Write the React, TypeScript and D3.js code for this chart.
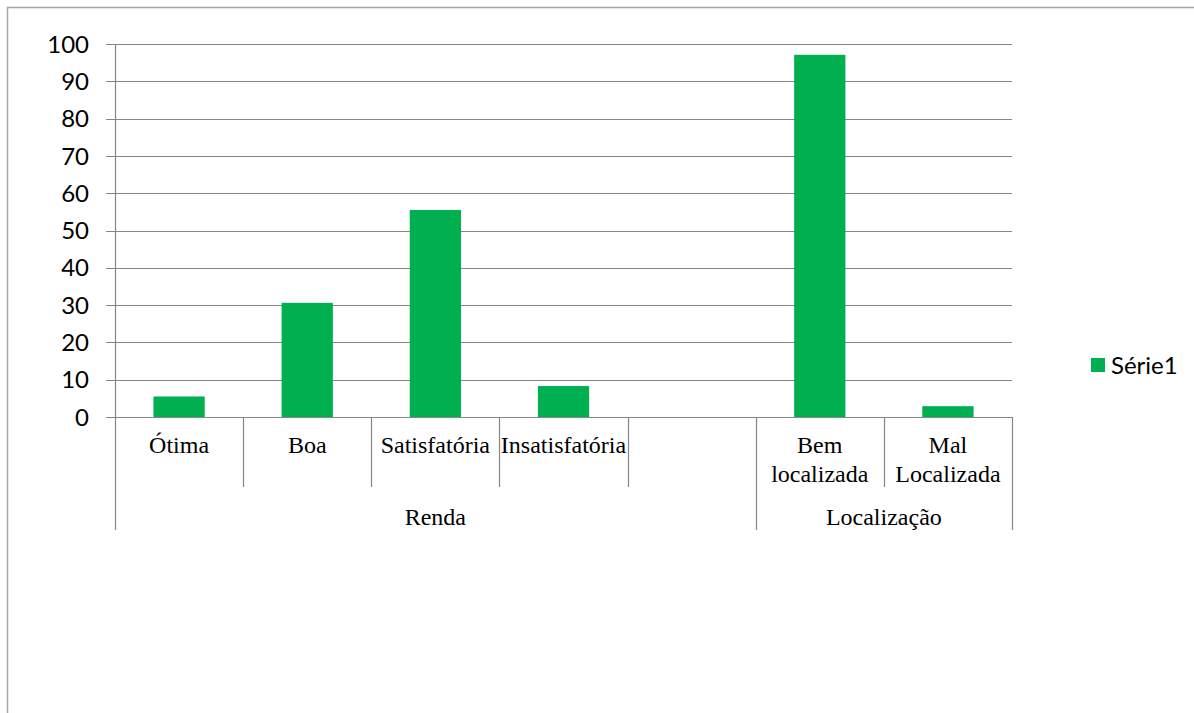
import React from 'react';
import * as d3 from 'd3';

// categories in slot order (an empty slot separates the two groups)
const categories = ['Ótima', 'Boa', 'Satisfatória', 'Insatisfatória', '', 'Bem localizada', 'Mal Localizada'];
const categoryLines = [['Ótima'], ['Boa'], ['Satisfatória'], ['Insatisfatória'], [], ['Bem', 'localizada'], ['Mal', 'Localizada']];
const values = [5.5, 30.6, 55.5, 8.3, null, 97.1, 2.9];
const groups = ['Renda', 'Localização'];
const groupSpans = [[0, 4], [5, 6]];
const yTicks = [0, 10, 20, 30, 40, 50, 60, 70, 80, 90, 100];
const seriesName = 'Série1';

const width = 1194;
const height = 713;
const left = 115;
const right = 1012;
const top = 44;
const bottom = 417;
const green = '#00B050';
const grid = '#868686';
const serif = '24px "Liberation Serif", "Times New Roman", serif';
const sans = '24px Lato, "Open Sans", sans-serif';

export default function App() {
  const slots = d3.scaleBand<number>()
    .domain(d3.range(categories.length))
    .range([left, right])
    .padding(0);
  const x = d3.scaleBand<number>()
    .domain(d3.range(categories.length))
    .range([left, right])
    .paddingInner(0.6)
    .paddingOuter(0.3);
  const y = d3.scaleLinear().domain([0, 100]).range([bottom, top]);

  const step = slots.step();
  const boundaries = d3.range(categories.length + 1).map(i => left + i * step);
  const groupEdges = new Set(groupSpans.flatMap(([a, b]) => [a, b + 1]));

  return (
    <svg width={width} height={height}
      style={{ position: 'absolute', left: 0, top: 0, background: '#fff' }}>
      <rect x={7.5} y={7.5} width={width + 10} height={height + 10} fill="none" stroke="#a6a6a6" strokeWidth={1.5} />

      {yTicks.map(t => (
        <g key={t}>
          <line x1={left - 9} x2={right} y1={Math.round(y(t)) + 0.5} y2={Math.round(y(t)) + 0.5} stroke={grid} strokeWidth={1.2} />
          <text x={89} y={y(t)} dy="0.36em" textAnchor="end" style={{ font: sans, fill: '#000' }}>{t}</text>
        </g>
      ))}

      {values.map((v, i) => v == null ? null : (
        <rect key={i} x={x(i)} width={x.bandwidth()} y={y(v)} height={y(0) - y(v)} fill={green} />
      ))}

      <line x1={left + 0.5} x2={left + 0.5} y1={top} y2={bottom} stroke={grid} strokeWidth={1.2} />

      {boundaries.map((bx, i) => (
        <line key={i} x1={Math.round(bx) + 0.5} x2={Math.round(bx) + 0.5} y1={bottom}
          y2={groupEdges.has(i) ? 530 : 487} stroke={grid} strokeWidth={1.2} />
      ))}

      {categoryLines.map((lines, i) => (
        <text key={i} x={(slots(i) as number) + step / 2} y={453} textAnchor="middle"
          style={{ font: serif, fill: '#000' }}>
          {lines.map((l, j) => <tspan key={j} x={(slots(i) as number) + step / 2} dy={j === 0 ? 0 : 29}>{l}</tspan>)}
        </text>
      ))}

      {groups.map((g, i) => {
        const [a, b] = groupSpans[i];
        const cx = ((slots(a) as number) + (slots(b) as number) + step) / 2;
        return (
          <text key={g} x={cx} y={525} textAnchor="middle" style={{ font: serif, fill: '#000' }}>{g}</text>
        );
      })}

      <rect x={1091} y={358} width={14} height={14} fill={green} />
      <text x={1111} y={365} dy="0.36em" style={{ font: sans, fill: '#000' }}>{seriesName}</text>
    </svg>
  );
}
